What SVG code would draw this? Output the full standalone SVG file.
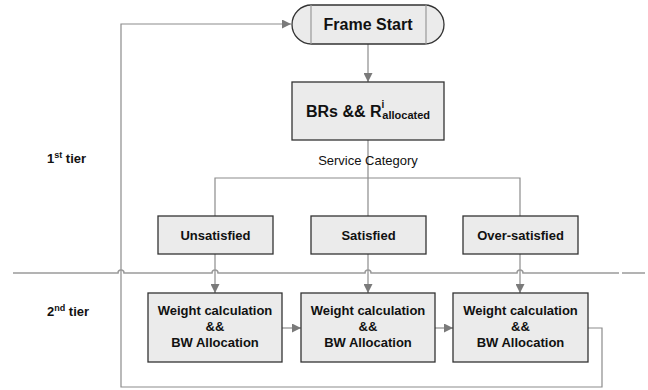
<svg xmlns="http://www.w3.org/2000/svg" width="648" height="390" viewBox="0 0 648 390">
<defs>
<marker id="arr" viewBox="0 0 10 10" refX="10" refY="5" markerWidth="9" markerHeight="9" markerUnits="userSpaceOnUse" orient="auto">
<path d="M0,0 L10,5 L0,10 z" fill="#7a7a7a"/>
</marker>
<style>
.box{fill:#ebebeb;stroke:#333;stroke-width:1.3}
.t{font-family:"Liberation Sans",Arial,sans-serif;font-weight:bold;font-size:13px;fill:#111;text-anchor:middle}
.c{fill:none;stroke:#8c8c8c;stroke-width:1.2}
.ca{fill:none;stroke:#8c8c8c;stroke-width:1.2;marker-end:url(#arr)}
</style>
</defs>
<rect width="648" height="390" fill="#fff"/>
<g id="connectors">
<path class="ca" d="M368,44 V82"/>
<path class="c" d="M368,140 V216 M215,216 V178 H520 V216"/>
<path class="ca" d="M215,254 V293"/>
<path class="ca" d="M368,254 V293"/>
<path class="ca" d="M520,254 V293"/>
<path class="ca" d="M282,328 H301"/>
<path class="ca" d="M435,328 H453"/>
<path class="ca" d="M588,328 H602 V387 H121 V24 H291"/>
<path fill="none" stroke="#9a9a9a" stroke-width="1.5" d="M13,273 H118 a3,3 0 0 1 6,0 H212 a3,3 0 0 1 6,0 H365 a3,3 0 0 1 6,0 H517 a3,3 0 0 1 6,0 H619 M622,273 H645"/>
</g>
<g id="frame-start">
<path class="box" d="M311.5,5 H424.5 A19.5,19.5 0 0 1 424.5,44 H311.5 A19.5,19.5 0 0 1 311.5,5 Z"/>
<path d="M311,5 V44 M426,5 V44" stroke="#999" stroke-width="1.2"/>
<text class="t" x="368" y="30" style="font-size:16px">Frame Start</text>
</g>
<g id="brs">
<rect class="box" x="292" y="82" width="152" height="58"/>
<text class="t" x="306" y="117" style="font-size:16px;text-anchor:start">BRs &amp;&amp; R<tspan font-size="10" dy="-9">i</tspan><tspan font-size="11" dx="-2" dy="11">allocated</tspan></text>
</g>
<text id="service-category" x="368" y="165" style="font-family:'Liberation Sans',Arial,sans-serif;font-size:13px;fill:#111;text-anchor:middle">Service Category</text>
<g id="unsatisfied">
<rect class="box" x="158" y="216" width="115" height="38"/>
<text class="t" x="215.5" y="240">Unsatisfied</text>
</g>
<g id="satisfied">
<rect class="box" x="311" y="216" width="115" height="38"/>
<text class="t" x="368.5" y="240">Satisfied</text>
</g>
<g id="over-satisfied">
<rect class="box" x="463" y="216" width="115" height="38"/>
<text class="t" x="520.5" y="240">Over-satisfied</text>
</g>
<g id="wc1">
<rect class="box" x="148" y="293" width="134" height="69"/>
<text class="t" x="215" y="315">Weight calculation</text>
<text class="t" x="215" y="331">&amp;&amp;</text>
<text class="t" x="215" y="347">BW Allocation</text>
</g>
<g id="wc2">
<rect class="box" x="301" y="293" width="134" height="69"/>
<text class="t" x="368" y="315">Weight calculation</text>
<text class="t" x="368" y="331">&amp;&amp;</text>
<text class="t" x="368" y="347">BW Allocation</text>
</g>
<g id="wc3">
<rect class="box" x="453" y="293" width="135" height="69"/>
<text class="t" x="520.5" y="315">Weight calculation</text>
<text class="t" x="520.5" y="331">&amp;&amp;</text>
<text class="t" x="520.5" y="347">BW Allocation</text>
</g>
<text id="tier1" class="t" x="47" y="163" style="text-anchor:start">1<tspan font-size="9" dy="-5">st</tspan><tspan dy="5"> tier</tspan></text>
<text id="tier2" class="t" x="47" y="316" style="text-anchor:start">2<tspan font-size="9" dy="-5">nd</tspan><tspan dy="5"> tier</tspan></text>
</svg>
